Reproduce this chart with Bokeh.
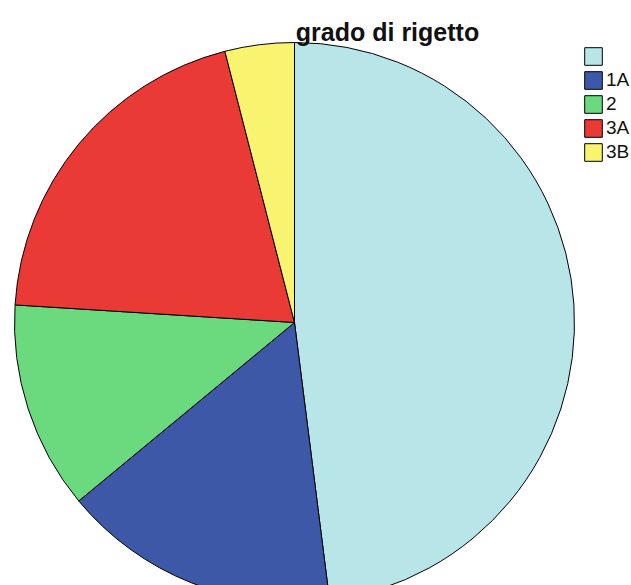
import numpy as np
from bokeh.plotting import figure
from bokeh.models import Range1d, Legend, LegendItem, Label, ColumnDataSource
from bokeh.embed import file_html
from bokeh.resources import INLINE

categories = ["", "1A", "2", "3A", "3B"]
counts = [12, 4, 3, 5, 1]
colors = ["#b8e6e8", "#3e58a8", "#6bda7f", "#e93a36", "#f8f46f"]
title_text = "grado di rigetto"

W, H = 631, 585
cx, cy, r = 294, 585 - 322, 280

vals = np.array(counts, dtype=float)
frac = vals / vals.sum()
cum = np.concatenate([[0], np.cumsum(frac)])
start = np.pi / 2 - cum[:-1] * 2 * np.pi
end = np.pi / 2 - cum[1:] * 2 * np.pi

src = ColumnDataSource(dict(cat=categories, start=start, end=end, color=colors,
                            x=[cx] * len(counts), y=[cy] * len(counts)))

p = figure(width=W, height=H, output_backend="svg", toolbar_location=None,
           x_range=Range1d(0, W), y_range=Range1d(0, H), min_border=0)
p.axis.visible = False
p.grid.visible = False
p.outline_line_color = None
p.background_fill_color = "white"

rend = p.wedge(x="x", y="y", radius=r, start_angle="start", end_angle="end",
               direction="clock", fill_color="color", line_color="black",
               line_width=1, source=src)

items = [LegendItem(label=c if c else " ", renderers=[rend], index=i)
         for i, c in enumerate(categories)]
legend = Legend(items=items, location=(582, 585 - 45 - 118),
                glyph_width=22, glyph_height=22, spacing=2, padding=0, margin=0,
                label_standoff=2, label_text_font="Liberation Sans",
                label_text_font_size="19px", label_height=22,
                label_text_color="#111111",
                border_line_color=None, background_fill_alpha=0)
p.add_layout(legend, "center")

p.add_layout(Label(x=387, y=H - 31, x_units="screen", y_units="screen",
                   text=title_text, text_align="center", text_baseline="alphabetic",
                   text_font="Liberation Sans", text_font_style="bold",
                   text_font_size="25px", text_color="#111111"))

open("out.html", "w").write(file_html(p, INLINE))
